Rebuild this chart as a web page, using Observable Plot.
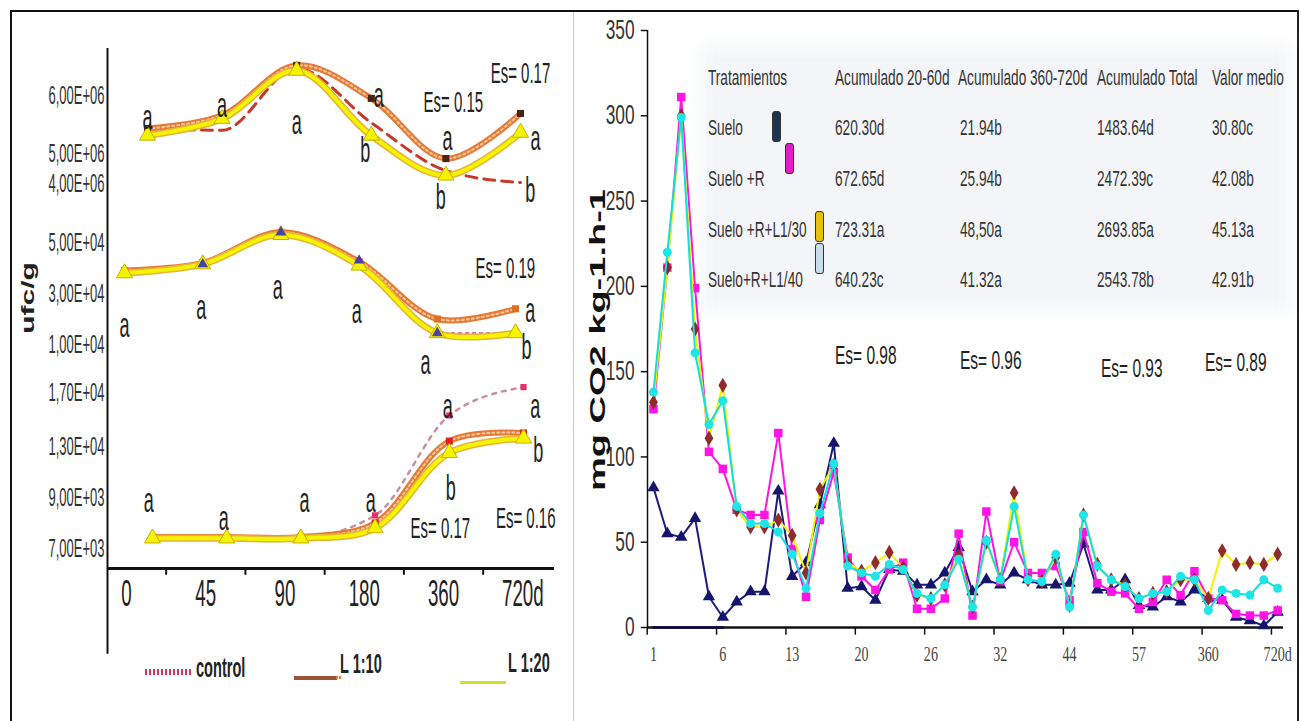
<!DOCTYPE html>
<html>
<head>
<meta charset="utf-8">
<script src="https://cdn.jsdelivr.net/npm/d3@7"></script>
<script src="https://cdn.jsdelivr.net/npm/@observablehq/plot@0.6"></script>
<style>
  html, body { margin: 0; padding: 0; background: #fff; }
  #root { position: relative; width: 1301px; height: 721px; overflow: hidden; background: #fff; }
  #root svg { position: absolute; left: 0; top: 0; }
  .lbl { position: absolute; white-space: nowrap; line-height: 1; }
</style>
</head>
<body>
<div id="root"></div>
<script>
// ---------------- DATA ----------------
const days = ["0", "45", "90", "180", "360", "720d"];
const legendNames = ["control", "L 1:10", "L 1:20"];

// upper panel (ufc/g ~ 10^6)
const topTicks = [6e6, 5e6, 4e6];
const topControl = [5.43e6, 5.40e6, 6.47e6, 5.53e6, 4.43e6, 4.03e6];
const topL110 = [5.43e6, 5.66e6, 6.52e6, 5.95e6, 4.83e6, 5.69e6];
const topL120 = [5.31e6, 5.60e6, 6.43e6, 5.31e6, 4.27e6, 5.36e6];
const topNotes = [
  {i: 0, v: 5.62e6, t: "a"}, {i: 1.0, v: 5.83e6, t: "a"}, {i: 2.0, v: 5.53e6, t: "a"},
  {i: 3.1, v: 6.0e6, t: "a"}, {i: 2.92, v: 5.05e6, t: "b"}, {i: 4.02, v: 5.26e6, t: "a"},
  {i: 3.93, v: 3.53e6, t: "b"}, {i: 5.2, v: 5.26e6, t: "a"}, {i: 5.13, v: 3.77e6, t: "b"},
  {i: 4.1, v: 5.88e6, t: "Es= 0.15"}, {i: 5.0, v: 6.38e6, t: "Es= 0.17"}
];

// middle panel (ufc/g ~ 10^4)
const midTicks = [5e4, 3e4, 1e4];
const midControl = [3.8e4, 4.15e4, 5.4e4, 4.3e4, 1.45e4, 1.45e4];
const midL110 = [3.9e4, 4.2e4, 5.4e4, 4.25e4, 2.0e4, 2.4e4];
const midL120 = [3.8e4, 4.15e4, 5.3e4, 4.1e4, 1.45e4, 1.45e4];
const midNotes = [
  {i: 0, v: 1.75e4, t: "a"}, {i: 0.98, v: 2.45e4, t: "a"}, {i: 1.96, v: 3.24e4, t: "a"},
  {i: 2.97, v: 2.3e4, t: "a"}, {i: 3.85, v: 0.3e4, t: "a"}, {i: 5.19, v: 2.33e4, t: "a"},
  {i: 5.14, v: 0.88e4, t: "b"}, {i: 4.87, v: 3.98e4, t: "Es= 0.19"}
];

// lower panel (ufc/g ~ 10^3-10^4)
const botTicks = [1.7e4, 1.3e4, 9e3, 7e3];
const botControl = [7.45e3, 7.45e3, 7.45e3, 8.3e3, 1.53e4, 1.74e4];
const botL110 = [7.45e3, 7.45e3, 7.45e3, 8.0e3, 1.34e4, 1.40e4];
const botL120 = [7.4e3, 7.4e3, 7.4e3, 7.8e3, 1.25e4, 1.36e4];
const botNotes = [
  {i: -0.05, v: 8.88e3, t: "a"}, {i: 0.96, v: 8.18e3, t: "a"}, {i: 2.05, v: 8.88e3, t: "a"},
  {i: 2.94, v: 8.88e3, t: "a"}, {i: 3.98, v: 1.6e4, t: "a"}, {i: 4.02, v: 9.7e3, t: "b"},
  {i: 5.16, v: 1.6e4, t: "a"}, {i: 5.2, v: 1.27e4, t: "b"},
  {i: 3.88, v: 7.78e3, t: "Es= 0.17"}, {i: 5.03, v: 8.18e3, t: "Es= 0.16"}
];

// right chart: CO2 respiration
const co2Labels = ["1", "6", "13", "20", "26", "32", "44", "57", "360", "720d"];
const co2Ticks = [0, 50, 100, 150, 200, 250, 300, 350];
const suelo   = [82,55,53,64,18,6,15,21,21,80,30,38,72,108,23,24,16,34,33,25,25,32,47,21,28,25,32,28,25,25,26,49,22,22,28,13,12,18,15,22,17,16,6,4,1,9];
const sueloR  = [128,211,311,199,103,93,69,66,66,114,46,18,63,91,41,30,22,34,38,11,11,17,55,7,68,27,50,32,32,36,16,56,26,21,20,11,15,28,19,33,17,16,8,7,7,10];
const sueloL30 = [132,211,300,175,111,142,69,59,59,63,54,32,81,95,38,33,38,44,35,19,17,25,42,12,50,28,79,28,27,41,13,66,37,28,25,17,20,21,28,28,17,45,37,38,37,43];
const sueloL40 = [138,220,299,161,119,133,71,61,61,56,43,23,67,96,36,32,30,37,34,20,17,25,40,12,51,28,71,28,27,43,12,66,36,28,24,17,20,21,30,28,10,22,20,19,28,23];
const baseBlue = [0, 0, 0, 0, 0, 0];

const tratamientos = ["Suelo", "Suelo +R", "Suelo +R+L1/30", "Suelo+R+L1/40"];
const tableHeads = ["Tratamientos", "Acumulado 20-60d", "Acumulado 360-720d", "Acumulado Total", "Valor medio"];
const acum2060 = ["620.30d", "672.65d", "723.31a", "640.23c"];
const acum360720 = ["21.94b", "25.94b", "48,50a", "41.32a"];
const acumTotal = ["1483.64d", "2472.39c", "2693.85a", "2543.78b"];
const valorMedio = ["30.80c", "42.08b", "45.13a", "42.91b"];
const esValues = ["Es= 0.98", "Es= 0.96", "Es= 0.93", "Es= 0.89"];
const swatchColors = ["#1d3553", "#e21cc8", "#e8c200", "#c9dcea"];

// ---------------- HELPERS ----------------
const W = 1301, H = 721;
const SANS = "'Liberation Sans', Arial, sans-serif";
const SERIF = "'Liberation Serif', 'Times New Roman', serif";
const root = document.getElementById("root");

function squeeze(svg, sx) {
  svg.querySelectorAll("text").forEach(t => {
    const x = +t.getAttribute("x") || 0, y = +t.getAttribute("y") || 0;
    const tr = t.getAttribute("transform") || "";
    t.setAttribute("transform", `${tr} translate(${x},${y}) scale(${sx},1) translate(${-x},${-y})`);
  });
}
function mount(svg, sx) { squeeze(svg, sx); root.appendChild(svg); }

function label(text, x, y, o = {}) {
  const d = document.createElement("div");
  d.className = "lbl";
  d.textContent = text;
  d.style.fontSize = (o.size || 22) + "px";
  d.style.fontFamily = o.family || SANS;
  d.style.fontWeight = o.weight || "normal";
  d.style.color = o.color || "#222";
  d.style.left = x + "px";
  d.style.top = y + "px";
  if (o.rotate) {
    d.style.transformOrigin = "0 0";
    d.style.transform = `rotate(-90deg) scale(1, ${o.sy || 1}) translate(-50%, -50%)`;
  } else {
    d.style.transformOrigin = "0 50%";
    d.style.transform = `translateY(-50%) scaleX(${o.sx || 0.62})`;
  }
  root.appendChild(d);
  return d;
}
function box(x, y, w, h, css) {
  const d = document.createElement("div");
  d.style.position = "absolute";
  d.style.left = x + "px"; d.style.top = y + "px";
  d.style.width = w + "px"; d.style.height = h + "px";
  Object.assign(d.style, css);
  root.appendChild(d);
  return d;
}

// ---------------- FRAME ----------------
box(702, 46, 588, 264, {background: "#f3f5f9", filter: "blur(8px)"});
box(10, 10, 1289, 720, {borderTop: "2px solid #111", borderLeft: "2px solid #111", boxSizing: "border-box"});
box(573, 12, 1, 709, {background: "#c8c8c8"});
box(1297, 10, 2, 711, {background: "#222"});

// ---------------- LEFT PANEL ----------------
const fmtE = d => {
  const e = Math.floor(Math.log10(d) + 1e-9);
  return (d / 10 ** e).toFixed(2).replace(".", ",") + "E+" + String(e).padStart(2, "0");
};
const idx = (d, i) => i;

// each panel's value axis is unevenly spaced (hand-placed tick labels in the original),
// so values are warped piecewise-linearly before Plot's linear y scale.
function subPanel({ticks, warp, yRange, xRange, control, l110, l120, notes, ctrlStyle, markL110, ctrlDots}) {
  const wd = warp.domain();
  const Y = d => warp(d);
  const marks = [
    Plot.text(ticks, {y: Y, text: fmtE, frameAnchor: "left", textAnchor: "end", dx: -3,
      fontSize: 26, fontFamily: SANS, fill: "#333"}),
    Plot.line(control, {x: idx, y: Y, curve: "monotone-x", ...ctrlStyle}),
    Plot.line(l110, {x: idx, y: Y, curve: "catmull-rom", stroke: "#e57a36", strokeWidth: 6}),
    Plot.line(l110, {x: idx, y: Y, curve: "catmull-rom", stroke: "#f8c79c", strokeWidth: 2, strokeDasharray: "2,3"}),
    Plot.line(l120, {x: idx, y: Y, curve: "catmull-rom", stroke: "#e6b23a", strokeWidth: 7}),
    Plot.line(l120, {x: idx, y: Y, curve: "catmull-rom", stroke: "#f4f400", strokeWidth: 4}),
    Plot.dot(l110, {x: idx, y: Y, symbol: "square", r: 4, fill: markL110, stroke: "none"}),
    Plot.dot(l120, {x: idx, y: Y, symbol: "triangle", r: 6, fill: "#f4f400", stroke: "#c8b000", strokeWidth: 1}),
    ctrlDots ? Plot.dot(control, {x: idx, y: Y, ...ctrlDots}) : null,
    Plot.text(notes, {x: d => d.i, y: d => warp(d.v), text: d => d.t,
      fontSize: d => d.t.length > 1 ? 30 : 36, fontFamily: SANS, fill: "#222"})
  ].filter(Boolean);
  return Plot.plot({
    width: W, height: H,
    marginLeft: 107, marginRight: W - 554, marginTop: 48, marginBottom: H - 568,
    x: {domain: [0, 5], range: xRange, axis: null},
    y: {domain: [warp(wd[0]), warp(wd[wd.length - 1])], range: yRange, axis: null},
    style: {background: "transparent", overflow: "visible"},
    marks
  });
}

mount(subPanel({
  ticks: topTicks, warp: d3.scaleLinear().domain([4e6, 5e6, 6e6]).range([0, 30, 88]),
  yRange: [183, 95], xRange: [147, 520],
  control: topControl, l110: topL110, l120: topL120, notes: topNotes,
  ctrlStyle: {stroke: "#c43a2c", strokeWidth: 3, strokeDasharray: "11,7"},
  markL110: "#4a2412"
}), 0.5);

mount(subPanel({
  ticks: midTicks, warp: d3.scaleLinear().domain([1e4, 5e4]).range([1e4, 5e4]),
  yRange: [344, 242], xRange: [124, 515],
  control: midControl, l110: midL110, l120: midL120, notes: midNotes,
  ctrlStyle: {stroke: "#c05060", strokeWidth: 1.5, strokeDasharray: "3,4"},
  markL110: "#e07020",
  ctrlDots: {symbol: "triangle", r: 4, fill: "#4a40a8", filter: (d, i) => i > 0 && i < 5}
}), 0.5);

mount(subPanel({
  ticks: botTicks, warp: d3.scaleLinear().domain([7e3, 9e3, 1.3e4, 1.7e4]).range([0, 51, 102, 156]),
  yRange: [548, 392], xRange: [152, 523],
  control: botControl, l110: botL110, l120: botL120, notes: botNotes,
  ctrlStyle: {stroke: "#c89098", strokeWidth: 2.5, strokeDasharray: "4,6"},
  markL110: "#e0201a",
  ctrlDots: {symbol: "square", r: 3.5, fill: "#e8306a", filter: (d, i) => i > 2}
}), 0.5);

// shared axes of the left panel
const axisX = [-0.24, 5.4];
mount(Plot.plot({
  width: W, height: H,
  marginLeft: 107, marginRight: W - 554, marginTop: 48, marginBottom: H - 568,
  x: {domain: axisX, axis: null},
  y: {domain: [0, 1], axis: null},
  style: {background: "transparent", overflow: "visible"},
  marks: [
    Plot.ruleX([axisX[0]], {y1: 1, y2: -0.165, stroke: "#111", strokeWidth: 2}),
    Plot.ruleY([0], {stroke: "#111", strokeWidth: 3}),
    Plot.ruleX(days.slice(1), {x: (d, i) => i + 0.5, y1: 0, y2: -0.013, stroke: "#111", strokeWidth: 2}),
    Plot.text(days, {x: idx, frameAnchor: "bottom", dy: 37, text: d => d, fontSize: 36, fontFamily: SANS, fill: "#222"})
  ]
}), 0.52);

// y title + legend
label("ufc/g", 28, 298, {size: 30, weight: "bold", rotate: true, sy: 0.6, color: "#222"});
box(145, 669, 47, 6, {background: "repeating-linear-gradient(90deg, #e0305a 0 2px, transparent 2px 4px)"});
label(legendNames[0], 196, 668, {size: 28, weight: "bold", sx: 0.52, color: "#222"});
box(294, 676, 43, 4, {background: "#9a5634"});
box(336, 676, 6, 3, {background: "repeating-linear-gradient(90deg, #e08040 0 2px, transparent 2px 3px)"});
label(legendNames[1], 340, 664, {size: 28, weight: "bold", sx: 0.52, color: "#222"});
box(460, 681, 46, 3, {background: "#cfe02e"});
label(legendNames[2], 508, 663, {size: 28, weight: "bold", sx: 0.52, color: "#222"});

// ---------------- RIGHT PANEL ----------------
const xDom = [-0.43, 45.42];
const co2 = Plot.plot({
  width: W, height: H,
  marginLeft: 647, marginRight: W - 1283, marginTop: 30, marginBottom: H - 627,
  x: {domain: xDom, axis: null},
  y: {domain: [0, 350], axis: null},
  style: {background: "transparent", overflow: "visible"},
  marks: [
    Plot.ruleX([xDom[0]], {y1: 0, y2: 350, stroke: "#111", strokeWidth: 1.5}),
    Plot.ruleY(co2Ticks, {x1: xDom[0] - 0.45, x2: xDom[0], stroke: "#111", strokeWidth: 1.5}),
    Plot.text(co2Ticks, {y: d => d, frameAnchor: "left", textAnchor: "end", dx: -13, fontSize: 27, fontFamily: SANS, fill: "#333"}),
    Plot.line(baseBlue, {x: idx, y: d => d, stroke: "#2b2bf5", strokeWidth: 3}),
    Plot.ruleY([0], {x1: xDom[0], x2: xDom[1], stroke: "#111", strokeWidth: 2.5}),
    Plot.ruleX(co2Labels, {x: (d, k) => 5 * k - 0.45, y1: 0, y2: -4.5, stroke: "#111", strokeWidth: 1.5}),
    Plot.text(co2Labels, {x: (d, k) => 5 * k, frameAnchor: "bottom", dy: 33, text: d => d, fontSize: 22, fontFamily: SERIF, fill: "#444"}),
    Plot.line(suelo, {x: idx, y: d => d, stroke: "#1c1c7e", strokeWidth: 2}),
    Plot.dot(suelo, {x: idx, y: d => d, symbol: "triangle", r: 4.6, fill: "#15156c"}),
    Plot.line(sueloR, {x: idx, y: d => d, stroke: "#ff14e6", strokeWidth: 2}),
    Plot.dot(sueloR, {x: idx, y: d => d, symbol: "square", r: 4.8, fill: "#ff14e6"}),
    Plot.line(sueloL30, {x: idx, y: d => d, stroke: "#f2f200", strokeWidth: 2}),
    Plot.dot(sueloL30, {x: idx, y: d => d, symbol: "diamond", r: 4.6, fill: "#8e2c2c"}),
    Plot.line(sueloL40, {x: idx, y: d => d, stroke: "#12dede", strokeWidth: 2}),
    Plot.dot(sueloL40, {x: idx, y: d => d, symbol: "circle", r: 4.5, fill: "#1ee6e6"})
  ]
});
mount(co2, 0.64);

label("mg CO2 kg-1.h-1", 597, 340, {size: 38, weight: "bold", rotate: true, sy: 0.6, color: "#111"});

// table
const colX = [708, 835, 958, 1097, 1212];
const rowY = [128, 179, 230, 280];
tableHeads.forEach((h, k) => label(h, colX[k], 78, {size: 22, color: "#333"}));
tratamientos.forEach((t, r) => label(t, colX[0], rowY[r], {size: 22, color: "#333"}));
[acum2060, acum360720, acumTotal, valorMedio].forEach((col, k) =>
  col.forEach((v, r) => label(v, colX[k + 1] + (k === 1 ? 2 : 0), rowY[r], {size: 22, color: "#333"})));
const swatchPos = [[772, 111], [785, 143], [815, 211], [815, 243]];
swatchColors.forEach((c, r) => box(swatchPos[r][0], swatchPos[r][1], 9, 31,
  {background: c, border: "1.5px solid #333", borderRadius: "3px", boxSizing: "border-box"}));
const esPos = [[835, 355], [960, 360], [1101, 368], [1205, 362]];
esValues.forEach((e, k) => label(e, esPos[k][0], esPos[k][1], {size: 25, color: "#222"}));
</script>
</body>
</html>
